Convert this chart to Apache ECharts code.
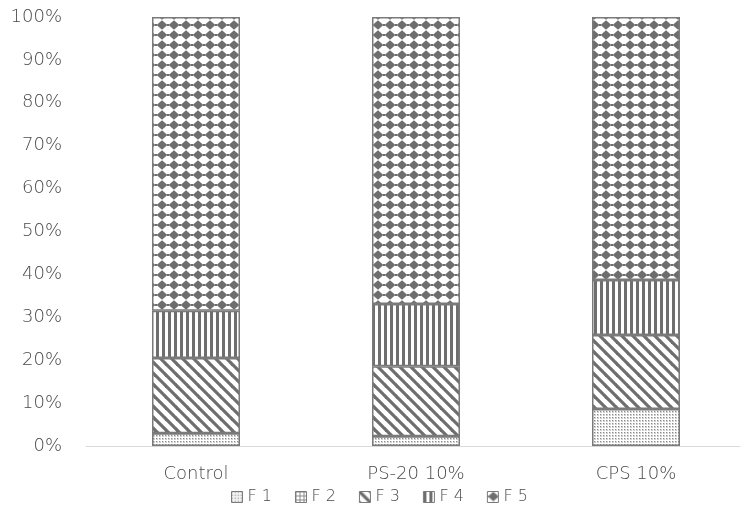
<!DOCTYPE html>
<html>
<head>
<meta charset="utf-8">
<script src="https://cdn.jsdelivr.net/npm/echarts@6/dist/echarts.min.js"></script>
<style>
  html, body { margin: 0; padding: 0; background: #fff; overflow: hidden; }
  #chart { width: 752px; height: 511px; }
</style>
</head>
<body>
<div id="chart"></div>
<script>
// Fraction composition (%) per treatment
const categories = ['Control', 'PS-20 10%', 'CPS 10%'];
const seriesNames = ['F 1', 'F 2', 'F 3', 'F 4', 'F 5'];
const f1 = [3.0, 2.3, 8.6];
const f2 = [0.0, 0.0, 0.0];
const f3 = [17.5, 16.3, 17.3];
const f4 = [11.0, 14.5, 12.8];
const f5 = [68.5, 66.9, 61.3];
const yTicks = [0, 10, 20, 30, 40, 50, 60, 70, 80, 90, 100];

function tile(w, h, draw) {
  const c = document.createElement('canvas');
  c.width = w; c.height = h;
  const ctx = c.getContext('2d');
  ctx.fillStyle = '#ffffff';
  ctx.fillRect(0, 0, w, h);
  draw(ctx, w, h);
  return { image: c, repeat: 'repeat' };
}

const INK = '#6e6e6e';

// fine dots
const pF1 = tile(3, 3, (ctx) => {
  ctx.fillStyle = '#d0d0d0';
  ctx.fillRect(0, 0, 2, 2);
  ctx.fillStyle = '#8a8a8a';
  ctx.fillRect(0, 0, 1, 1);
});
// small grid
const pF2 = tile(4, 4, (ctx) => {
  ctx.fillStyle = '#8a8a8a';
  ctx.fillRect(0, 0, 4, 1);
  ctx.fillRect(0, 0, 1, 4);
});
// diagonal "\" stripes
const pF3 = tile(11, 11, (ctx, w, h) => {
  ctx.strokeStyle = INK;
  ctx.lineWidth = 3.2;
  for (let k = -1; k <= 1; k++) {
    ctx.beginPath();
    ctx.moveTo(-1, k * h - 1);
    ctx.lineTo(w + 1, h + k * h + 1);
    ctx.stroke();
  }
});
// vertical stripes
const pF4 = tile(6, 6, (ctx) => {
  ctx.fillStyle = INK;
  ctx.fillRect(0, 0, 3, 6);
});
// diamonds in rows
const pF5 = tile(12, 10, (ctx, w, h) => {
  ctx.fillStyle = INK;
  const dia = (cx, cy, rx, ry) => {
    ctx.beginPath();
    ctx.moveTo(cx - rx, cy);
    ctx.lineTo(cx, cy - ry);
    ctx.lineTo(cx + rx, cy);
    ctx.lineTo(cx, cy + ry);
    ctx.closePath();
    ctx.fill();
  };
  dia(6, 5, 5.4, 4.7);
  ctx.fillRect(0, 4, 1, 2);
  ctx.fillRect(11, 4, 1, 2);
});

const patterns = [pF1, pF2, pF3, pF4, pF5];
const values = [f1, f2, f3, f4, f5];

const chart = echarts.init(document.getElementById('chart'), null, { renderer: 'canvas' });

const font = '"DejaVu Sans", "Noto Sans", sans-serif';
const TEXT = '#4a4a4a';

chart.setOption({
  animation: false,
  grid: { left: 86, top: 17, right: 6, bottom: 65, containLabel: false },
  legend: {
    bottom: 1,
    left: 226,
    itemWidth: 11,
    itemHeight: 11,
    itemGap: 23,
    itemStyle: { borderColor: '#7a7a7a', borderWidth: 1 },
    textStyle: { color: TEXT, fontSize: 16, fontFamily: font, fontWeight: 200 },
    data: seriesNames.map((n) => ({ name: n, icon: 'rect' }))
  },
  xAxis: {
    type: 'category',
    data: categories,
    axisLine: { show: true, lineStyle: { color: '#d9d9d9', width: 1 } },
    axisTick: { show: false },
    axisLabel: { color: TEXT, fontSize: 18, fontFamily: font, fontWeight: 200, margin: 19 }
  },
  yAxis: {
    type: 'value',
    min: yTicks[0],
    max: yTicks[yTicks.length - 1],
    interval: 10,
    splitLine: { show: false },
    axisLine: { show: false },
    axisTick: { show: false },
    axisLabel: {
      color: TEXT, fontSize: 18, fontFamily: font, fontWeight: 200, margin: 24,
      formatter: (v) => v + '%'
    }
  },
  series: seriesNames.map((name, i) => ({
    name,
    type: 'bar',
    stack: 'total',
    barWidth: 88,
    data: values[i],
    itemStyle: {
      color: patterns[i],
      borderColor: '#7a7a7a',
      borderWidth: 1.5
    }
  }))
});
</script>
</body>
</html>
